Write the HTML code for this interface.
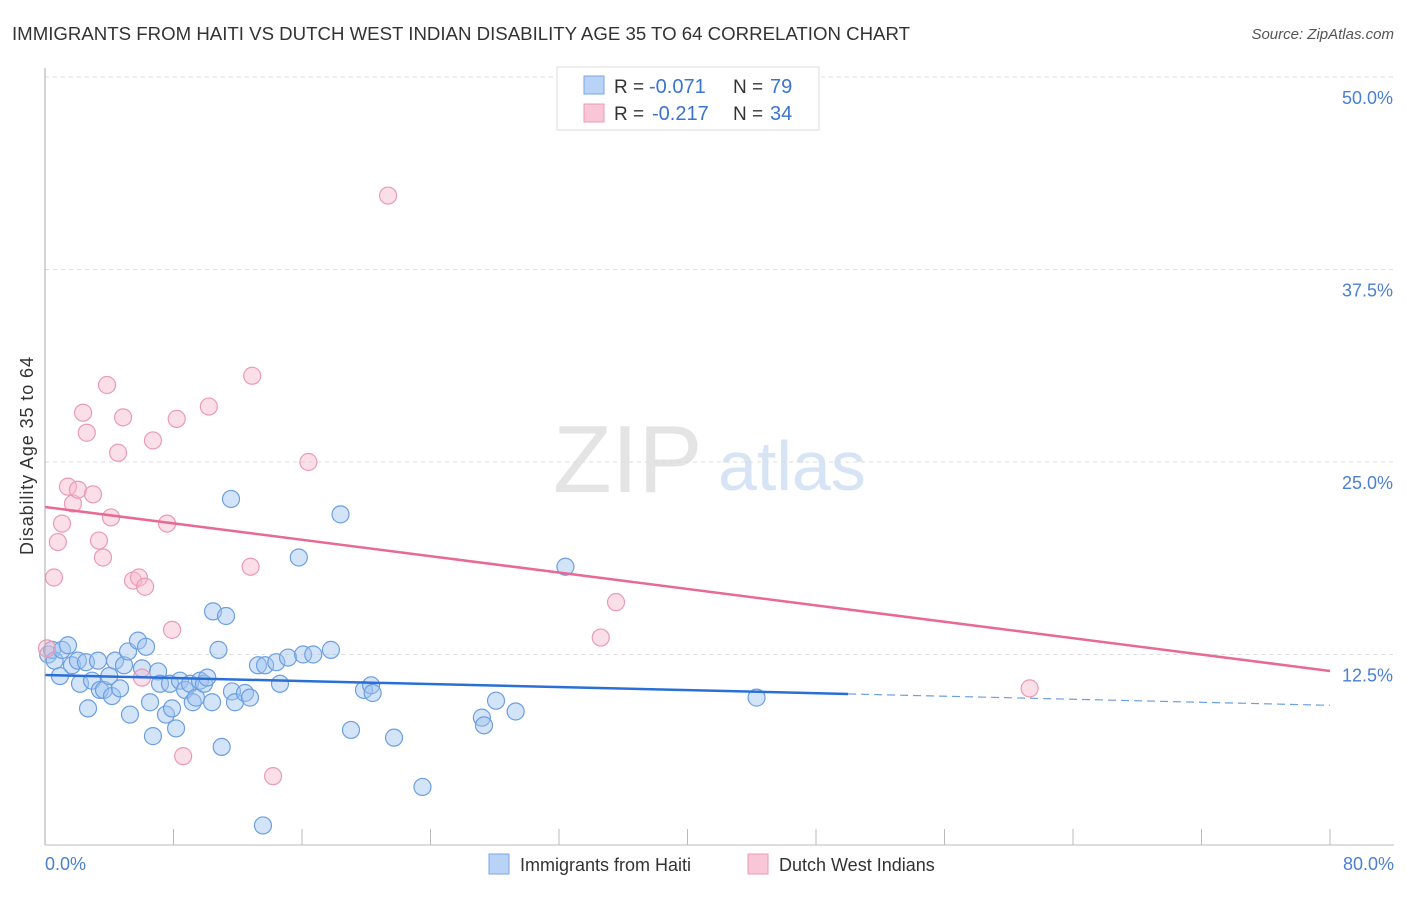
<!DOCTYPE html>
<html><head><meta charset="utf-8"><style>
body{margin:0;background:#fff;font-family:"Liberation Sans",sans-serif}
svg text{font-family:"Liberation Sans",sans-serif}
</style></head><body>
<svg id="c" width="1406" height="892">
<text x="12" y="40" font-size="18" fill="#333" textLength="898" lengthAdjust="spacingAndGlyphs">IMMIGRANTS FROM HAITI VS DUTCH WEST INDIAN DISABILITY AGE 35 TO 64 CORRELATION CHART</text>
<text x="1394" y="39" font-size="15" fill="#555" font-style="italic" text-anchor="end">Source: ZipAtlas.com</text>
<text x="553" y="492" font-size="96" fill="#e4e4e4" font-family="Liberation Serif">ZIP</text>
<text x="718" y="490" font-size="70" fill="#d6e4f5">atlas</text>
<g id="grid"></g><g id="pts"></g><g id="lines"></g>
<line x1="45" y1="68" x2="45" y2="845" stroke="#aaa"/>
<line x1="45" y1="845" x2="1394" y2="845" stroke="#bbb"/>
<text x="45" y="870" font-size="18" fill="#4a7fd4">0.0%</text>
<text x="1394" y="870" font-size="18" fill="#4a7fd4" text-anchor="end">80.0%</text>
<text transform="translate(33,456) rotate(-90)" font-size="18" fill="#333" text-anchor="middle" textLength="198">Disability Age 35 to 64</text>
<g>
<rect x="557" y="67" width="262" height="63" fill="#fff" stroke="#ddd"/>
<rect x="584" y="76" width="20" height="18" fill="#b8d3f5" stroke="#7aa6e6"/>
<rect x="584" y="104" width="20" height="18" fill="#f8c6d6" stroke="#ec9ab5"/>
<text x="614" y="93" font-size="19" fill="#333">R =</text>
<text x="649" y="93" font-size="20" fill="#3a74d0">-0.071</text>
<text x="733" y="93" font-size="19" fill="#333">N =</text>
<text x="770" y="93" font-size="20" fill="#3a74d0">79</text>
<text x="614" y="120" font-size="19" fill="#333">R =</text>
<text x="652" y="120" font-size="20" fill="#3a74d0">-0.217</text>
<text x="733" y="120" font-size="19" fill="#333">N =</text>
<text x="770" y="120" font-size="20" fill="#3a74d0">34</text>
</g>
<g>
<rect x="489" y="854" width="20" height="20" fill="#b8d3f5" stroke="#7aa6e6"/>
<text x="520" y="871" font-size="18" fill="#333">Immigrants from Haiti</text>
<rect x="748" y="854" width="20" height="20" fill="#f8c6d6" stroke="#ec9ab5"/>
<text x="779" y="871" font-size="18" fill="#333">Dutch West Indians</text>
</g>
</svg>
<script>
const yTicks=[12.5,25,37.5,50];
const xTicks=[0,8,16,24,32,40,48,56,64,72,80];
const haitiX=[0.2,0.44,0.6,0.93,1.06,1.43,1.68,2.05,2.18,2.55,2.68,2.93,3.3,3.42,3.67,4.0,4.17,4.36,4.67,4.92,5.17,5.29,5.79,6.04,6.29,6.54,6.72,7.04,7.16,7.53,7.78,7.91,8.16,8.4,8.72,9.03,9.2,9.4,9.65,9.9,10.1,10.4,10.46,10.8,11.0,11.27,11.58,11.64,11.83,12.45,12.76,13.26,13.57,13.7,14.4,14.63,15.13,15.8,16.07,16.7,17.8,18.4,19.05,19.86,20.3,20.4,21.73,23.5,27.2,27.33,28.08,29.3,32.4,44.3];
const haitiY=[12.5,12.8,12.1,11.1,12.8,13.1,11.8,12.1,10.6,12.0,9.0,10.8,12.1,10.2,10.2,11.1,9.8,12.1,10.3,11.8,12.7,8.6,13.4,11.6,13.0,9.4,7.2,11.4,10.6,8.6,10.6,9.0,7.7,10.8,10.2,10.6,9.4,9.7,10.8,10.6,11.0,9.4,15.3,12.8,6.5,15.0,22.6,10.1,9.4,10.0,9.7,11.8,1.4,11.8,12.0,10.6,12.3,18.8,12.5,12.5,12.8,21.6,7.6,10.2,10.5,10.0,7.1,3.9,8.4,7.9,9.5,8.8,18.2,9.7];
const dutchX=[0.12,0.56,0.8,1.06,1.43,1.74,2.05,2.37,2.6,2.99,3.36,3.61,3.86,4.11,4.55,4.86,5.48,5.85,6.04,6.23,6.72,7.6,7.91,8.2,8.6,10.2,12.8,12.9,14.2,16.4,21.36,34.6,35.55,61.3];
const dutchY=[12.9,17.5,19.8,21.0,23.4,22.3,23.2,28.2,26.9,22.9,19.9,18.8,30.0,21.4,25.6,27.9,17.3,17.5,11.0,16.9,26.4,21.0,14.1,27.8,5.9,28.6,18.2,30.6,4.6,25.0,42.3,13.6,15.9,10.3];
const haitiTrend=[11.17,9.2];const haitiSolidEnd=50;
const dutchTrend=[22.08,11.43];
const NS='http://www.w3.org/2000/svg';
const X=v=>45+v/80*1285, Y=v=>847-v/12.5*192.5;
function mk(t,a,p){const e=document.createElementNS(NS,t);for(const k in a)e.setAttribute(k,a[k]);document.getElementById(p).appendChild(e);return e;}
yTicks.forEach(t=>{
 const l=mk('line',{x1:45,x2:1394,y1:Y(t),y2:Y(t),stroke:'#ddd','stroke-dasharray':'4,4'},'grid');
 
 
 const tx=mk('text',{x:1393,y:Y(t)+27,'font-size':18,fill:'#4a7fd4','text-anchor':'end'},'grid');
 tx.textContent=t.toFixed(1)+'%';
 
 
});
xTicks.forEach(t=>{
 const l=mk('line',{x1:X(t),x2:X(t),y1:829,y2:845,stroke:'#bbb'},'grid');
 
 
});
haitiX.forEach((x,i)=>{
 const c=mk('circle',{cx:X(x),cy:Y(haitiY[i]),r:8.5,fill:'rgba(160,196,240,0.45)',stroke:'#6b9fe2','stroke-width':1.2},'pts');
 
 
});
dutchX.forEach((x,i)=>{
 const c=mk('circle',{cx:X(x),cy:Y(dutchY[i]),r:8.5,fill:'rgba(246,184,204,0.45)',stroke:'#eb9ab5','stroke-width':1.2},'pts');
 
 
});
const hy=x=>haitiTrend[0]+(haitiTrend[1]-haitiTrend[0])*x/80;
let l1=mk('line',{x1:X(0),y1:Y(hy(0)),x2:X(haitiSolidEnd),y2:Y(hy(haitiSolidEnd)),stroke:'#2a6fd6','stroke-width':2.5},'lines');


let l2=mk('line',{x1:X(haitiSolidEnd),y1:Y(hy(haitiSolidEnd)),x2:X(80),y2:Y(hy(80)),stroke:'#6b9fe2','stroke-width':1.2,'stroke-dasharray':'8,5'},'lines');


let l3=mk('line',{x1:X(0),y1:Y(dutchTrend[0]),x2:X(80),y2:Y(dutchTrend[1]),stroke:'#e86a94','stroke-width':2.5},'lines');


</script>
</body></html>
